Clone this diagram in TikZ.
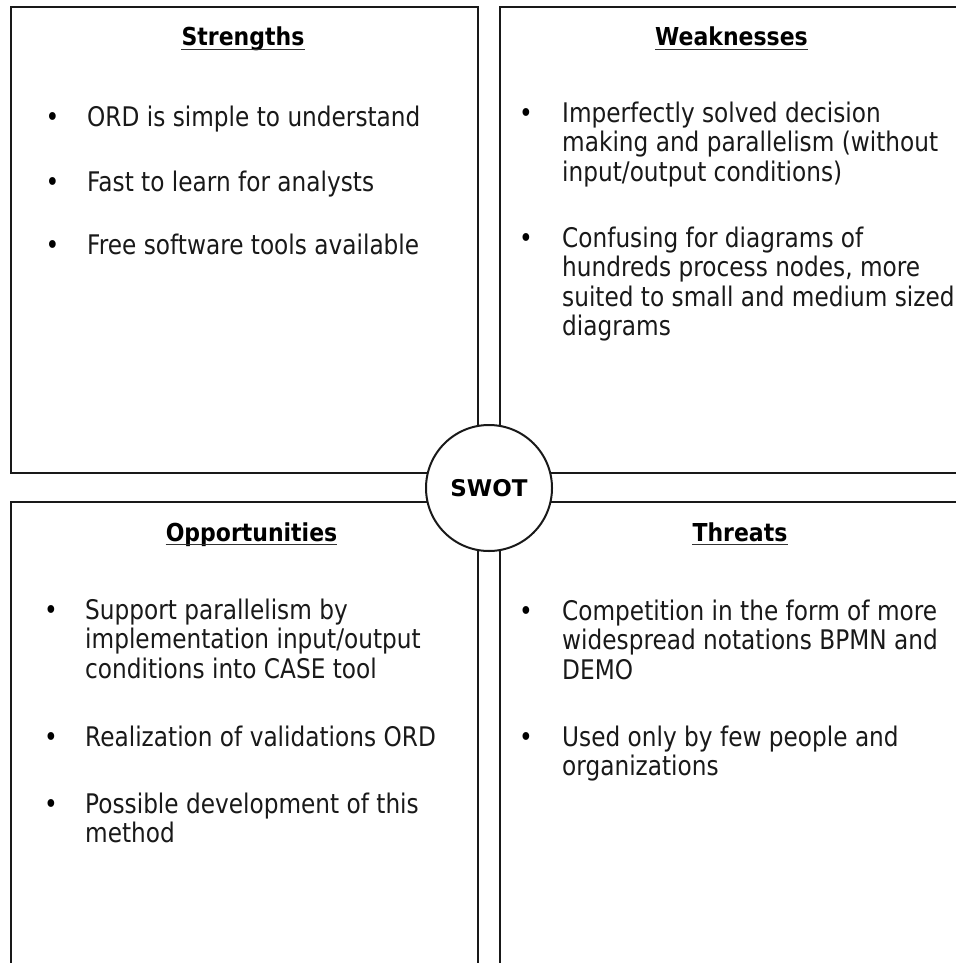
\documentclass[tikz,border=0pt]{standalone}
\usepackage{fontspec}
\newfontfamily\bodyfont{DejaVu Sans}[FakeStretch=0.86]
\newfontfamily\headfont{DejaVu Sans Bold}[FakeStretch=0.89]
\newfontfamily\swotfont{DejaVu Sans Bold}
\tikzset{
  panel/.style={draw=black!90, line width=2pt, fill=white, inner sep=0pt, anchor=north west},
  head/.style={inner sep=0pt, anchor=base, font=\headfont\fontsize{24.7}{28}\selectfont},
  body/.style={inner sep=0pt, anchor=base west, align=left, text=black!90, font=\bodyfont\fontsize{27}{29.5}\selectfont},
  bul/.style={inner sep=0pt, anchor=base, font=\bodyfont\fontsize{27}{29.5}\selectfont},
  uline/.style={line width=1.8pt, draw=black!80},
  hub/.style={circle, draw=black!90, line width=2pt, fill=white, inner sep=0pt, minimum size=126pt, font=\swotfont\fontsize{23}{26}\selectfont}
}
\begin{document}
\begin{tikzpicture}[x=1pt,y=-1pt]
\useasboundingbox (0,0) rectangle (955,963);
% panels
\node[panel, minimum width=467.5pt, minimum height=466pt] (S) at (9.5,6) {};
\node[panel, minimum width=468pt, minimum height=466pt] (W) at (499,6) {};
\node[panel, minimum width=467.5pt, minimum height=480pt] (O) at (9.5,501) {};
\node[panel, minimum width=468pt, minimum height=480pt] (T) at (499,501) {};
% headings
\node[head] (hS) at (243,46) {Strengths};
\node[head] (hW) at (731.5,46) {Weaknesses};
\node[head] (hO) at (251.5,541) {Opportunities};
\node[head] (hT) at (740,541) {Threats};
\foreach \h in {hS,hW,hO,hT}{
  \draw[uline] ([yshift=-3.5pt]\h.base west) -- ([yshift=-3.5pt]\h.base east);
}
% Strengths (multi-line nodes are placed at the baseline of their last line)
\node[bul] (bS1) at (52.5,127) {•};
\node[body] (tS1) at (87,127) {ORD is simple to understand};
\node[bul] (bS2) at (52.5,191) {•};
\node[body] (tS2) at (87,191) {Fast to learn for analysts};
\node[bul] (bS3) at (52.5,254) {•};
\node[body] (tS3) at (87,254) {Free software tools available};
% Weaknesses
\node[bul] (bW1) at (526,122) {•};
\node[body] (tW1) at (562,181) {Imperfectly solved decision\\making and parallelism (without\\input/output conditions)};
\node[bul] (bW2) at (526,247) {•};
\node[body] (tW2) at (562,335.5) {Confusing for diagrams of\\hundreds process nodes, more\\suited to small and medium sized\\diagrams};
% Opportunities
\node[bul] (bO1) at (51,619) {•};
\node[body] (tO1) at (85,678) {Support parallelism by\\implementation input/output\\conditions into CASE tool};
\node[bul] (bO2) at (51,746) {•};
\node[body] (tO2) at (85,746) {Realization of validations ORD};
\node[bul] (bO3) at (51,813) {•};
\node[body] (tO3) at (85,842.5) {Possible development of this\\method};
% Threats
\node[bul] (bT1) at (526,620) {•};
\node[body] (tT1) at (562,679) {Competition in the form of more\\widespread notations BPMN and\\DEMO};
\node[bul] (bT2) at (526,746) {•};
\node[body] (tT2) at (562,775.5) {Used only by few people and\\organizations};
% centre
\node[hub] (swot) at (489,488) {SWOT};
\end{tikzpicture}
\end{document}
